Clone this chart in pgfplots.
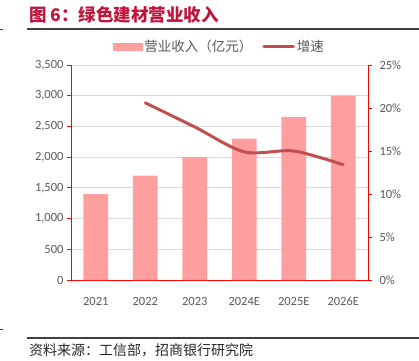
\documentclass[border=0pt]{standalone}
\usepackage{pgfplots}
\pgfplotsset{compat=1.18}
\usepackage{fontspec}
\setmainfont{Carlito}
\newfontfamily\cjk{Noto Sans CJK SC}
\definecolor{barc}{HTML}{FF9E9E}
\definecolor{linec}{HTML}{C0504D}
\definecolor{axred}{HTML}{FF0000}
\definecolor{txt}{HTML}{595959}
\definecolor{gridc}{HTML}{D9D9D9}
\definecolor{titlec}{HTML}{C0143C}
\begin{document}
\begin{tikzpicture}
\path[use as bounding box] (0pt,0pt) rectangle (419pt,360pt);
% title and rules
\node[anchor=west,inner sep=0pt,text=titlec,font=\cjk\bfseries\fontsize{17.5}{19}\selectfont] at (29pt,345pt) {图 6：绿色建材营业收入};
\draw[line width=1.4pt,color=black!75] (27pt,331pt) -- (419pt,331pt);
\draw[line width=1pt,color=black!75] (0pt,331pt) -- (2.5pt,331pt);
\draw[line width=1.4pt,color=black!75] (27pt,22pt) -- (419pt,22pt);
\draw[line width=1pt,color=black!75] (0pt,31pt) -- (2.5pt,31pt);
\node[anchor=west,inner sep=0pt,text=black!85,font=\cjk\fontsize{14}{16}\selectfont] at (29pt,10pt) {资料来源：工信部，招商银行研究院};

\pgfplotstableread{
x rev
0 1400
1 1700
2 2000
3 2300
4 2650
5 3000
}\revtab
\pgfplotstableread{
x g
1 20.6
2 17.8
3 14.9
4 15.0
5 13.4
}\growtab

\begin{axis}[
  at={(71pt,80pt)}, anchor=south west,
  scale only axis, width=297pt, height=215pt,
  xmin=-0.5, xmax=5.5, ymin=0, ymax=3500,
  axis x line*=bottom, axis y line*=left,
  axis line style={color=axred, line width=0.9pt},
  xtick={0,...,5},
  xticklabels={2021,2022,2023,2024E,2025E,2026E},
  x tick style={draw=none},
  xticklabel style={yshift=-10pt},
  extra x ticks={-0.5,0.5,1.5,2.5,3.5,4.5,5.5},
  extra x tick labels={},
  extra x tick style={tick align=outside, major tick length=4pt, tick style={draw=axred, line width=0.9pt}},
  ytick={0,500,...,3500},
  y tick style={draw=axred, line width=0.9pt},
  tick align=outside, major tick length=4pt,
  ymajorgrids, grid style={color=gridc, line width=0.8pt},
  tick label style={font=\fontsize{12.5}{14}\selectfont, text=txt},
  /pgf/number format/assume math mode=true,
  /pgf/number format/.cd, 1000 sep={,},
]
\addplot[ybar, bar width=0.5, fill=barc, draw=none, bar shift=0pt] table[x=x,y=rev] {\revtab};
\end{axis}

\begin{axis}[
  at={(71pt,80pt)}, anchor=south west,
  scale only axis, width=297pt, height=215pt,
  xmin=-0.5, xmax=5.5, ymin=0, ymax=25,
  axis x line=none, axis y line*=right,
  axis line style={color=axred, line width=0.9pt},
  ytick={0,5,...,25},
  yticklabel={\pgfmathprintnumber{\tick}\%},
  yticklabel style={xshift=4pt},
  y tick style={draw=axred, line width=0.9pt},
  tick align=outside, major tick length=4pt,
  tick label style={font=\fontsize{12.5}{14}\selectfont, text=txt},
  /pgf/number format/assume math mode=true,
  legend style={at={(0.5,1)}, anchor=south, yshift=8pt, draw=none, fill=none,
    font=\cjk\fontsize{13.5}{15}\selectfont, text=txt, legend columns=2,
    /tikz/every even column/.append style={column sep=8pt}},
]
\addlegendimage{legend image code/.code={\fill[barc] (0pt,-3.5pt) rectangle (29pt,3.5pt);}}
\addlegendentry{营业收入（亿元）}
\addplot[color=linec, line width=3pt, smooth, line cap=round,
  legend image code/.code={\draw[color=linec, line width=3pt, line cap=round] (1.5pt,0pt) -- (31pt,0pt);}] table[x=x,y=g] {\growtab};
\addlegendentry{增速}
\end{axis}
\end{tikzpicture}
\end{document}
